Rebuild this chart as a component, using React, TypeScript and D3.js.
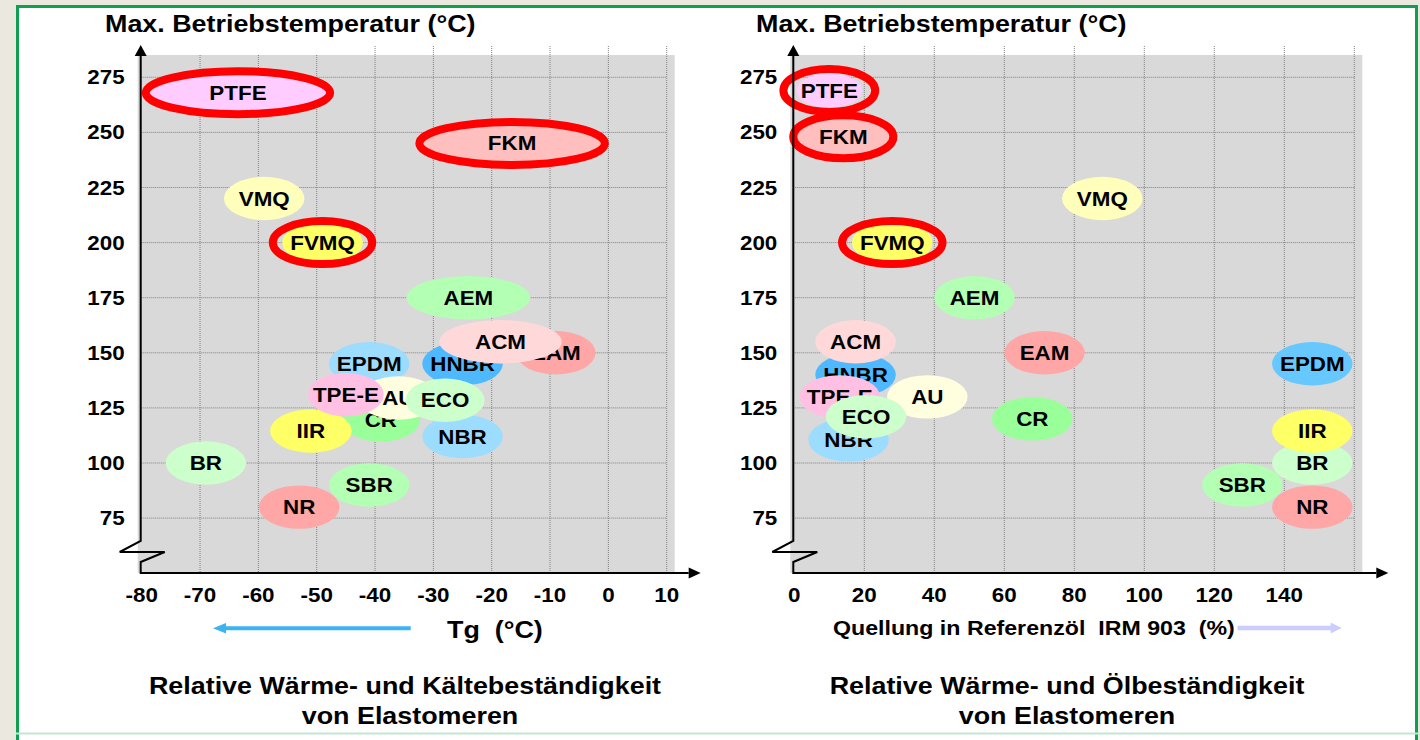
import * as d3 from "d3";

// drawing order (later ones sit on top)
const materials = ["EPDM", "HNBR", "EAM", "ACM", "AEM", "CR", "BR", "SBR", "IIR", "AU", "TPE-E", "NBR", "ECO", "NR", "VMQ", "PTFE", "FKM", "FVMQ"];

// left panel: glass transition temperature Tg (°C) vs max. service temperature (°C)
const tg = [-41, -25, -9, -18.5, -24, -39, -69, -41, -51, -36, -45, -25, -28, -53, -59, -63.5, -16.5, -49];
const tempLeft = [145, 145, 150, 155, 175, 119.5, 100, 90, 114.5, 129.5, 131, 112, 128.5, 80, 220, 268, 245, 200];
const tgHalfRange = [6.9, 6.9, 6.8, 10.5, 10.6, 6.7, 6.9, 6.9, 7, 6.9, 6.5, 6.9, 6.8, 6.9, 6.9, 15.8, 15.9, 6.9];

// right panel: swelling in IRM 903 (%) vs max. service temperature (°C)
const swell = [148, 17.5, 71.5, 17.5, 51.5, 68, 148, 128, 148, 38, 13, 15.5, 20.5, 148, 88, 10, 14, 28];
const tempRight = [145, 140, 150, 155, 175, 120, 100, 90, 114.5, 130, 130, 110.5, 121, 80, 220, 269, 248, 200];
const swellHalfRange = [11.5, 11.5, 11.5, 11.5, 11.5, 11.5, 11.5, 11.5, 11.5, 11.5, 11.5, 11.5, 11.5, 11.5, 11.5, 9.4, 14.3, 11.5];

const highlighted = ["PTFE", "FKM", "FVMQ"];

const tempTicks = [275, 250, 225, 200, 175, 150, 125, 100, 75];
const tgTicks = [-80, -70, -60, -50, -40, -30, -20, -10, 0, 10];
const tgGrid = [-70, -60, -50, -40, -30, -20, -10, 0, 10];
const swellTicks = [0, 20, 40, 60, 80, 100, 120, 140];
const swellGrid = [20, 40, 60, 80, 100, 120, 140, 160];

const colors: Record<string, string> = {
  EPDM: "#9cdcff", HNBR: "#4fb9ff", EAM: "#ffa6a6", ACM: "#ffd9d9", AEM: "#b3ffb3",
  CR: "#99ff99", BR: "#ccffcc", SBR: "#b3ffb3", IIR: "#ffff66", AU: "#ffffe0",
  "TPE-E": "#ffc0e3", NBR: "#9cdcff", ECO: "#ccffcc", NR: "#ffa6a6", VMQ: "#ffffbb",
  PTFE: "#ffccff", FKM: "#ffbfbf", FVMQ: "#ffff66",
};

const FONT = "'Liberation Sans', Arial, Helvetica, sans-serif";
const SX = 1.12; // the source lettering is a little wide

const y = d3.scaleLinear().domain([75, 275]).range([518.1, 77.3]);
const xLeft = d3.scaleLinear().domain([-80, 10]).range([141.7, 666.7]);
const xRight = d3.scaleLinear().domain([0, 160]).range([794.3, 1354.3]);

function T({ x, y, size, anchor = "middle", children, pre }: any) {
  return (
    <text
      transform={`translate(${x},${y}) scale(${SX},1)`}
      textAnchor={anchor}
      fontFamily={FONT}
      fontWeight="bold"
      fontSize={size}
      fill="#000"
      style={pre ? { whiteSpace: "pre" } : undefined}
    >
      {children}
    </text>
  );
}

function Panel({ x, vals, temps, halfs, grid, ticks, ringPad, ryFill = {}, colorOver = {}, lowGrid = () => false }: any) {
  const [x0, x1] = x.range();
  const ax = x0 - 1;
  const top = 55;
  const base = 573;
  return (
    <g>
      <rect x={ax - 3} y={top} width={x1 + 8 - (ax - 3)} height={base - top} fill="#d9d9d9" />
      {tempTicks.map((t) => (
        <line key={"h" + t} x1={ax} x2={x1} y1={y(t)} y2={y(t)} stroke="#808080" strokeDasharray="1,1" />
      ))}
      {grid.map((g: number) => (
        <line key={"v" + g} x1={x(g)} x2={x(g)} y1={lowGrid(g) ? top : 46} y2={base} stroke="#808080" strokeDasharray="1,1" />
      ))}
      {tempTicks.map((t) => (
        <T key={"yl" + t} x={ax - 16} y={y(t) + 7} size={20} anchor="end">{t}</T>
      ))}
      {ticks.map((t: number) => (
        <T key={"xl" + t} x={x(t)} y={602} size={20}>{t}</T>
      ))}
      {materials.map((m, i) => {
        const cx = x(vals[i]);
        const cy = y(temps[i]);
        const rx = x(vals[i] + halfs[i]) - cx;
        const ry = ryFill[m] ?? 21.7;
        const ring = highlighted.includes(m);
        return (
          <g key={m}>
            <ellipse cx={cx} cy={cy} rx={rx} ry={ring ? Math.min(ry, 21.5) : ry} fill={colorOver[m] ?? colors[m]} />
            {ring && (
              <ellipse cx={cx} cy={cy} rx={rx + (ringPad[m] ?? 0)} ry={21.5} fill="none" stroke="#ff0000" strokeWidth={8} />
            )}
            <T x={cx} y={cy + 7} size={20}>{m}</T>
          </g>
        );
      })}
      <path
        d={`M${ax},${top} L${ax},541 L${ax - 21},552 L${ax + 24},552 L${ax},562 L${ax},${base} L${x1 + 22},${base}`}
        fill="none"
        stroke="#000"
        strokeWidth={2}
      />
      <polygon points={`${ax},45 ${ax - 6},56 ${ax + 6},56`} fill="#000" />
      <polygon points={`${x1 + 34},${base} ${x1 + 22},${base - 5.5} ${x1 + 22},${base + 5.5}`} fill="#000" />
    </g>
  );
}

export default function App() {
  return (
    <svg width={1420} height={740} style={{ position: "absolute", left: 0, top: 0, display: "block" }}>
      <rect x={0} y={0} width={1420} height={740} fill="#ebe9df" />
      <rect x={17.5} y={6.5} width={1399} height={740} fill="#ffffff" stroke="#0ea04f" strokeWidth={3} />
      <line x1={16} x2={1419} y1={733.5} y2={733.5} stroke="#c3e5d3" strokeWidth={2} />

      <T x={105} y={32} size={24} anchor="start">Max. Betriebstemperatur (°C)</T>
      <T x={756} y={32} size={24} anchor="start">Max. Betriebstemperatur (°C)</T>

      <Panel
        x={xLeft}
        vals={tg}
        temps={tempLeft}
        halfs={tgHalfRange}
        grid={tgGrid}
        ticks={tgTicks}
        ringPad={{ PTFE: 0, FKM: 0, FVMQ: 9.5 }}
        lowGrid={(g: number) => g < -45}
      />
      <Panel
        x={xRight}
        vals={swell}
        temps={tempRight}
        halfs={swellHalfRange}
        grid={swellGrid}
        ticks={swellTicks}
        ringPad={{ PTFE: 13, FKM: 0, FVMQ: 10 }}
        ryFill={{ PTFE: 17 }}
        colorOver={{ EPDM: "#66c8ff" }}
      />

      {/* left axis caption with arrow */}
      <line x1={410.7} x2={224} y1={628.3} y2={628.3} stroke="#3cb4f2" strokeWidth={4} />
      <polygon points="213,628.3 226,623 226,633.6" fill="#3cb4f2" />
      <T x={447} y={638} size={24} anchor="start" pre>{"Tg  (°C)"}</T>

      {/* right axis caption with arrow */}
      <T x={833} y={635} size={20.7} anchor="start" pre>{"Quellung in Referenzöl  IRM 903  (%)"}</T>
      <line x1={1237.6} x2={1332} y1={628} y2={628} stroke="#ccccff" strokeWidth={4.5} />
      <polygon points="1341.6,628 1330.6,622.5 1330.6,633.5" fill="#ccccff" />

      <T x={405} y={694} size={24}>Relative Wärme- und Kältebeständigkeit</T>
      <T x={410} y={723.5} size={24}>von Elastomeren</T>
      <T x={1067} y={694} size={24}>Relative Wärme- und Ölbeständigkeit</T>
      <T x={1067} y={723.5} size={24}>von Elastomeren</T>
    </svg>
  );
}
